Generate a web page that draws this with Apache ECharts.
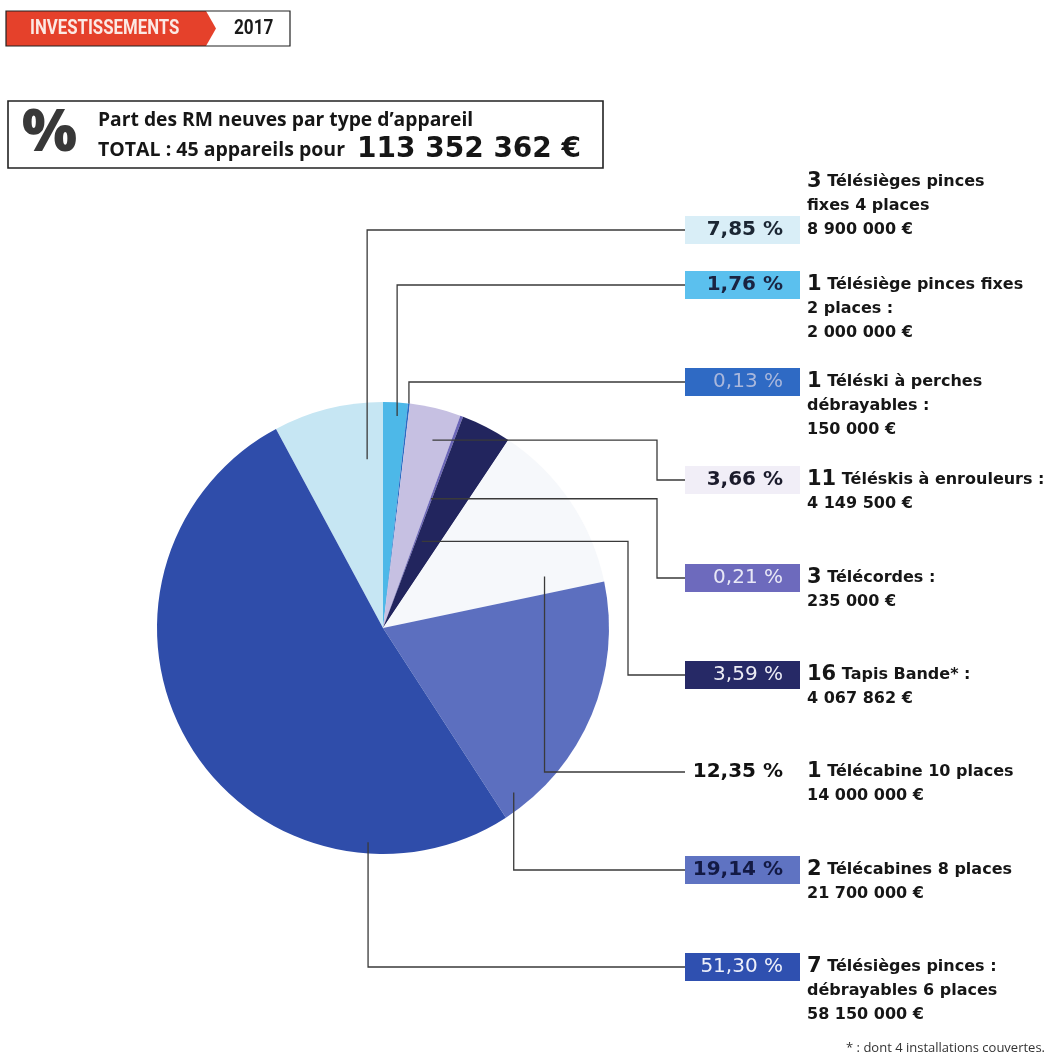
<!DOCTYPE html>
<html><head><meta charset="utf-8">
<script src="https://cdn.jsdelivr.net/npm/echarts@6/dist/echarts.min.js"></script>
<style>html,body{margin:0;padding:0;background:#fff}#c{width:1048px;height:1060px}</style>
</head><body><div id="c"></div>
<script>
// ---------- data ----------
const categories = [
  ['Télésièges pinces', 'fixes 4 places'],
  ['Télésiège pinces fixes', '2 places :'],
  ['Téléski à perches', 'débrayables :'],
  ['Téléskis à enrouleurs :'],
  ['Télécordes :'],
  ['Tapis Bande* :'],
  ['Télécabine 10 places'],
  ['Télécabines 8 places'],
  ['Télésièges pinces :', 'débrayables 6 places']
];
const counts = [3, 1, 1, 11, 3, 16, 1, 2, 7];
const amounts = [8900000, 2000000, 150000, 4149500, 235000, 4067862, 14000000, 21700000, 58150000];
const percents = [7.85, 1.76, 0.13, 3.66, 0.21, 3.59, 12.35, 19.14, 51.30];

// ---------- styles ----------
const sliceColors = ['#c6e6f3', '#4db8e8', '#2a6cc4', '#c6c0e2', '#6b66b8', '#22255e', '#f6f8fb', '#5c6fbf', '#2f4daa'];
const boxColors = ['#d9eef7', '#5bc0ee', '#2f6ac4', '#f1eef7', '#6d6abd', '#262966', 'transparent', '#5f73c2', '#2f50b0'];
const pctTextColors = ['#1b2633', '#1a2442', '#a9b7dc', '#1b1b2b', '#e8e8f6', '#ececf5', '#111111', '#131a44', '#eef0fa'];
const pctWeights = ['bold', 'bold', 'normal', 'bold', 'normal', 'normal', 'bold', 'bold', 'normal'];

// ---------- layout ----------
const CX = 383, CY = 628, R = 226;
const LABEL_X = 685, BOX_W = 115, BOX_RPAD = 17, GAP = 7, LH = 24;
const rowY = [230, 285, 382, 480, 578, 675, 772, 870, 967];
const boxLine = [2, 0, 0, 0, 0, 0, 0, 0, 0];
const anchorT = [0.81, 0.6, 0.5, 0.6, 0.5, 0.26, 0.87, 0.92, 0.2];
const anchorF = [0.75, 0.94, 1.0, 0.86, 0.61, 0.42, 0.75, 0.93, 0.95];
const bendX = [null, null, null, 657, 657, 628, null, null, null];

const F = '"Open Sans", "Noto Sans", sans-serif';
const D = '"DejaVu Sans", sans-serif';
const PCT_SIZE = 20;

function fr(n) { return String(n).replace(/\B(?=(\d{3})+(?!\d))/g, ' '); }
function pctStr(p) { return p.toFixed(2).replace('.', ',') + ' %'; }

const total = amounts.reduce((a, b) => a + b, 0);
const nDevices = counts.reduce((a, b) => a + b, 0);
const shares = amounts.map(a => a / total);
const startDeg = 90 + shares[0] * 360;
const sliceStart = [];
let acc = -shares[0] * 360;
shares.forEach(s => { sliceStart.push(acc); acc += s * 360; });

const mctx = document.createElement('canvas').getContext('2d');
function textW(str, weight, size, fam) { mctx.font = weight + ' ' + size + 'px ' + fam; return mctx.measureText(str).width; }

const rich = {
  num: { fontFamily: D, fontWeight: 'bold', fontSize: 21, color: '#161616', lineHeight: LH },
  d: { fontFamily: D, fontWeight: 'bold', fontSize: 16, color: '#161616', lineHeight: LH },
  gap: { width: BOX_W + GAP, lineHeight: LH },
  s: { width: GAP, lineHeight: LH }
};
percents.forEach((p, i) => {
  const w = textW(pctStr(p), pctWeights[i], PCT_SIZE, D);
  rich['p' + i] = {
    fontFamily: D, fontSize: PCT_SIZE, fontWeight: pctWeights[i], color: pctTextColors[i],
    backgroundColor: boxColors[i], height: 28, lineHeight: LH,
    padding: [0, BOX_RPAD, 0, Math.max(0, BOX_W - BOX_RPAD - w)]
  };
});

const labelTexts = categories.map((lines, i) => {
  const all = lines.concat([fr(amounts[i]) + ' €']);
  return all.map((L, k) => {
    const pre = (k === boxLine[i]) ? '{p' + i + '|' + pctStr(percents[i]) + '}{s| }' : '{gap| }';
    const body = (k === 0) ? '{num|' + counts[i] + '}{d| ' + L + '}' : '{d|' + L + '}';
    return pre + body;
  }).join('\n');
});

const pieData = amounts.map((v, i) => ({ name: categories[i].join(' '), value: v, itemStyle: { color: sliceColors[i] } }));
const overlayData = amounts.map((v, i) => ({ name: categories[i].join(' '), value: v, itemStyle: { color: 'rgba(0,0,0,0)' } }));

const chart = echarts.init(document.getElementById('c'));
chart.setOption({
  animation: false,
  backgroundColor: '#ffffff',
  graphic: [
    { type: 'polygon', shape: { points: [[6, 11], [206, 11], [216, 28.5], [206, 46], [6, 46]] }, style: { fill: '#e5412b' } },
    { type: 'rect', shape: { x: 6, y: 11, width: 284, height: 35 }, style: { fill: 'none', stroke: '#222', lineWidth: 1.2 } },
    { type: 'text', x: 30, y: 29, scaleX: 0.84, style: { text: 'INVESTISSEMENTS', font: 'bold 20px Roboto', fill: '#fbe9e4', verticalAlign: 'middle' } },
    { type: 'text', x: 234, y: 29, scaleX: 0.86, style: { text: '2017', font: 'bold 20px Roboto', fill: '#1a1a1a', verticalAlign: 'middle' } },
    { type: 'rect', shape: { x: 8, y: 101, width: 595, height: 67 }, style: { fill: 'none', stroke: '#222', lineWidth: 1.6 } },
    { type: 'text', x: 22, y: 134, style: { text: '%', font: '800 58px ' + F, fill: '#383838', verticalAlign: 'middle' } },
    { type: 'text', x: 98, y: 121, style: { text: 'Part des RM neuves par type d’appareil', font: '700 19.3px ' + F, fill: '#161616', verticalAlign: 'middle' } },
    { type: 'text', x: 98, y: 150, style: {
        text: '{a|TOTAL : ' + nDevices + ' appareils pour}{b|' + fr(total) + ' €}', verticalAlign: 'middle',
        rich: { a: { fontFamily: F, fontWeight: 700, fontSize: 19.5, fill: '#161616' },
                b: { fontFamily: D, fontWeight: 'bold', fontSize: 28, fill: '#161616', padding: [0, 0, 0, 12] } } } },
    { type: 'text', x: 1045, y: 1048, style: { text: '* : dont 4 installations couvertes.', font: '400 13px ' + F, fill: '#333', align: 'right', verticalAlign: 'middle' } }
  ],
  series: [{
    type: 'pie',
    z: 2,
    center: [CX, CY],
    radius: R,
    startAngle: startDeg,
    clockwise: true,
    silent: true,
    itemStyle: { borderWidth: 0 },
    label: { show: false },
    labelLine: { show: false },
    data: pieData
  }, {
    type: 'pie',
    z: 5,
    center: [CX, CY],
    radius: R,
    startAngle: startDeg,
    clockwise: true,
    silent: true,
    avoidLabelOverlap: false,
    itemStyle: { borderWidth: 0 },
    data: overlayData,
    label: {
      show: true,
      position: 'outside',
      formatter: p => labelTexts[p.dataIndex],
      rich: rich,
      lineHeight: LH
    },
    labelLine: { show: true, lineStyle: { color: '#3a3a3a', width: 1.3, opacity: 1 } },
    labelLayout: function (p) {
      const i = p.dataIndex;
      const a = (sliceStart[i] + anchorT[i] * shares[i] * 360) * Math.PI / 180;
      const ax = CX + R * anchorF[i] * Math.sin(a);
      const ay = CY - R * anchorF[i] * Math.cos(a);
      const y = rowY[i];
      const pts = bendX[i] != null
        ? [[ax, ay], [bendX[i], ay], [bendX[i], y], [LABEL_X, y]]
        : [[ax, ay], [ax, y], [LABEL_X, y]];
      return {
        x: LABEL_X, y: y - LH / 2 - LH * boxLine[i],
        align: 'left', verticalAlign: 'top',
        labelLinePoints: pts
      };
    }
  }]
});
</script></body></html>
